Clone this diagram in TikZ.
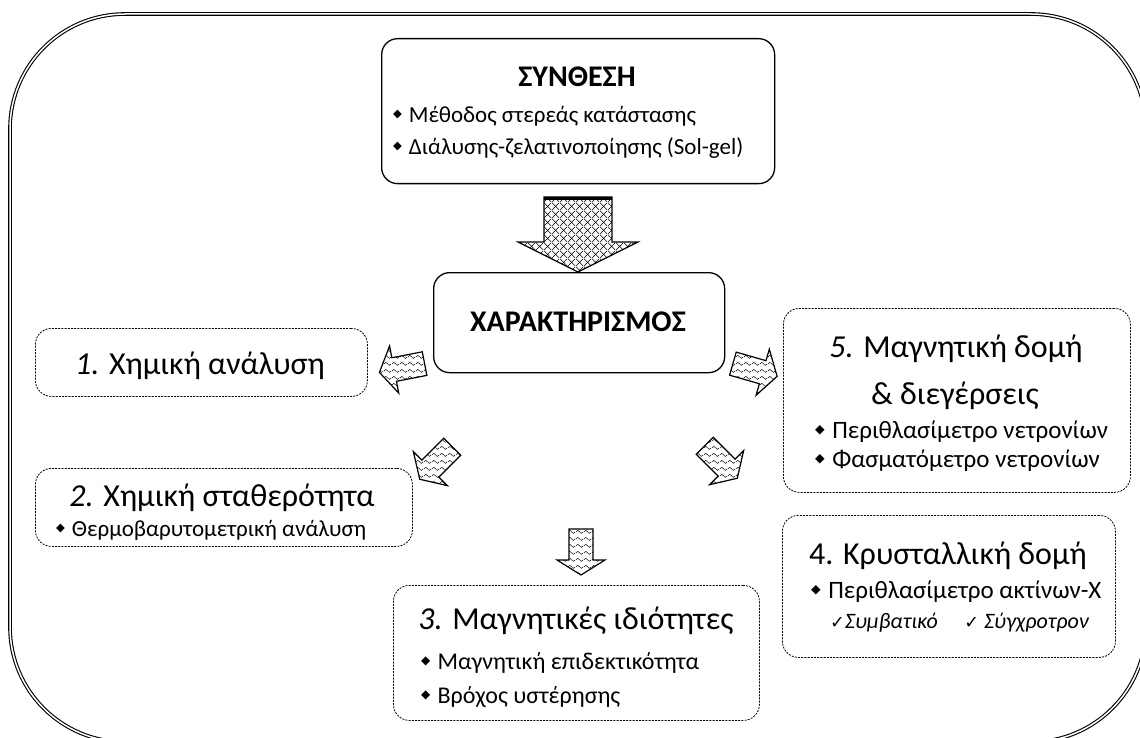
\documentclass[tikz,border=0pt]{standalone}
\usepackage{fontspec}
\setmainfont{Carlito}
\newfontfamily\symfont{DejaVu Sans}
\usetikzlibrary{patterns,patterns.meta}

% wavy fill used inside the small block arrows
\tikzdeclarepattern{
  name=waves,
  type=uncolored,
  bounding box={(0pt,0pt) and (8pt,7pt)},
  tile size={(8pt,7pt)},
  code={\draw[line width=0.5pt] (0pt,3.5pt) sin (2pt,5.2pt) cos (4pt,3.5pt) sin (6pt,1.8pt) cos (8pt,3.5pt);}
}
% diagonal cross-hatch used inside the large arrow
\tikzdeclarepattern{
  name=xhatch,
  type=uncolored,
  bounding box={(0pt,0pt) and (8pt,8pt)},
  tile size={(8pt,8pt)},
  code={\draw[line width=0.6pt] (0pt,0pt) -- (8pt,8pt) (0pt,8pt) -- (8pt,0pt);}
}

\newcommand\bul{\raisebox{0.2em}{\symfont\scalebox{0.5}{◆}}\hspace{0.3em}}
\newcommand\chk{{\symfont\scalebox{0.8}{✓}}}

\tikzset{
  frame/.style={draw, double, line width=1.1pt, double distance=1.5pt, rounded corners=115pt},
  solidbox/.style={draw, line width=1.3pt, rounded corners=16pt, inner sep=0pt},
  dashbox/.style={draw, line width=0.8pt, dash pattern=on 2pt off 1.2pt, rounded corners=16pt, inner sep=0pt},
  title/.style={font=\bfseries\fontsize{30}{32}\selectfont, inner sep=0pt},
  head/.style={font=\fontsize{32}{34}\selectfont, inner sep=0pt},
  item/.style={font=\fontsize{#1}{#1}\selectfont, inner sep=0pt, anchor=west},
  item/.default=24,
  sub/.style={font=\itshape\fontsize{22}{24}\selectfont, inner sep=0pt, anchor=west},
  blockarrow/.style={draw, line width=1.2pt, line join=miter, fill=white, pattern=waves},
}

\newcommand\wavearrow[3]{%
  \begin{scope}[shift={(#1,#2)}, rotate=#3]
    \draw[blockarrow] (-23,-12) -- (8,-12) -- (8,-24) -- (23,0) -- (8,24) -- (8,12) -- (-23,12) -- cycle;
  \end{scope}}

\begin{document}
\begin{tikzpicture}[x=1pt, y=-1pt]
\useasboundingbox (0,0) rectangle (1140,738);

% outer double frame
\draw[frame] (10,14) rectangle (1146,742);

% synthesis
\node[solidbox, anchor=north west, minimum width=393pt, minimum height=145pt] (syn) at (381,38) {};
\node[title] (synT) at (577,77) {ΣΥΝΘΕΣΗ};
\node[item=23] (syn1) at (393,116) {\bul Μέθοδος στερεάς κατάστασης};
\node[item=23] (syn2) at (393,148) {\bul Διάλυσης-ζελατινοποίησης (Sol-gel)};

% large arrow between synthesis and characterisation
\draw[line width=1.2pt, pattern=xhatch] (544,197) -- (612,197) -- (612,242) -- (638,242) -- (578,272) -- (518,242) -- (544,242) -- cycle;
\draw[line width=3pt] (544,199) -- (612,199);

% characterisation
\node[solidbox, anchor=north west, minimum width=291pt, minimum height=100pt] (char) at (433,272) {};
\node[title] (charT) at (578,322) {ΧΑΡΑΚΤΗΡΙΣΜΟΣ};

% 1
\node[dashbox, anchor=north west, minimum width=332pt, minimum height=68pt] (b1) at (35,328) {};
\node[head] (b1T) at (200,366) {\textit{1.} Χημική ανάλυση};

% 2
\node[dashbox, anchor=north west, minimum width=377pt, minimum height=78pt] (b2) at (35,468) {};
\node[head] (b2T) at (222,498) {\textit{2.} Χημική σταθερότητα};
\node[item=23] (b2a) at (56,530) {\bul Θερμοβαρυτομετρική ανάλυση};

% 3
\node[dashbox, anchor=north west, minimum width=366pt, minimum height=135pt] (b3) at (393,585) {};
\node[head] (b3T) at (576,621) {\textit{3.} Μαγνητικές ιδιότητες};
\node[item] (b3a) at (421,663) {\bul Μαγνητική επιδεκτικότητα};
\node[item] (b3b) at (421,697) {\bul Βρόχος υστέρησης};

% 4
\node[dashbox, anchor=north west, minimum width=333pt, minimum height=142pt] (b4) at (782,515) {};
\node[head] (b4T) at (948,556) {4. Κρυσταλλική δομή};
\node[item=25] (b4a) at (811,592) {\bul Περιθλασίμετρο ακτίνων-Χ};
\node[sub] (b4b) at (830,623) {\chk Συμβατικό\hspace{1.2em}\chk\ Σύγχροτρον};

% 5
\node[dashbox, anchor=north west, minimum width=347pt, minimum height=184pt] (b5) at (783,308) {};
\node[head] (b5T) at (956,349) {\textit{5.} Μαγνητική δομή};
\node[head] (b5U) at (955,396) {\& διεγέρσεις};
\node[item=25] (b5a) at (815,432) {\bul Περιθλασίμετρο νετρονίων};
\node[item=25] (b5b) at (815,461) {\bul Φασματόμετρο νετρονίων};

% small block arrows
\wavearrow{402}{368}{191}
\wavearrow{436}{463}{225}
\wavearrow{581}{552}{-90}
\wavearrow{721}{462}{-45}
\wavearrow{755}{370}{-16}
\end{tikzpicture}
\end{document}
